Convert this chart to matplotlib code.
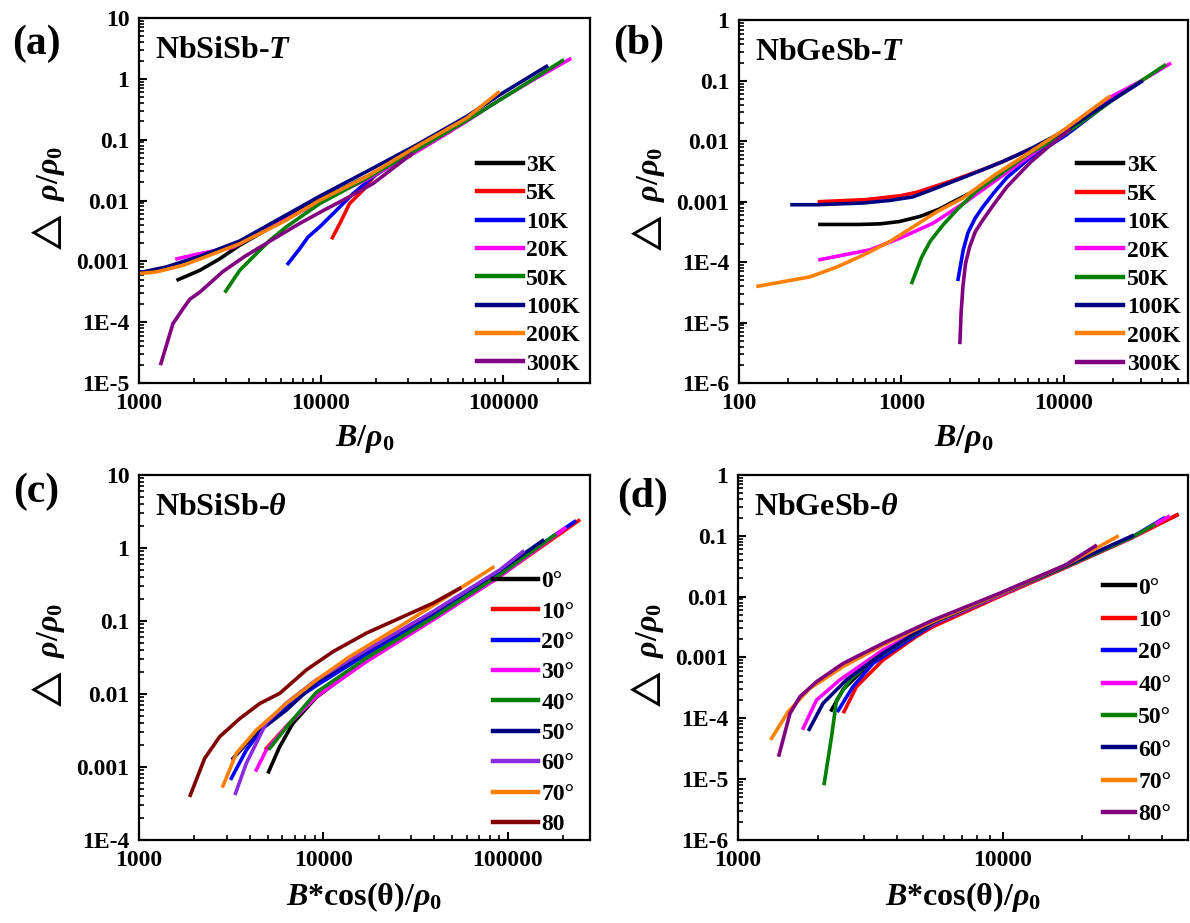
import matplotlib
matplotlib.use('Agg')
import matplotlib.pyplot as plt
from matplotlib.ticker import FixedLocator, FixedFormatter, LogLocator, NullFormatter

plt.rcParams['font.family'] = ['Liberation Serif', 'DejaVu Sans']
plt.rcParams['font.weight'] = 'bold'
plt.rcParams['mathtext.fontset'] = 'custom'
plt.rcParams['mathtext.rm'] = 'Liberation Serif:bold'
plt.rcParams['mathtext.bf'] = 'Liberation Serif:bold'
plt.rcParams['mathtext.it'] = 'Liberation Serif:italic:bold'
plt.rcParams['mathtext.fallback'] = 'stix'

# ---------------- data ----------------
# (a) NbSiSb, temperature
a_labels = ['3K', '5K', '10K', '20K', '50K', '100K', '200K', '300K']
a_colors = ['black', 'red', 'blue', 'magenta', 'green', 'navy', '#ff8000', 'purple']
a_x = [
    [1640, 2153, 2775, 3573, 6180, 9840, 17700, 30700],
    [11540, 12680, 14340, 17000, 20100, 30700, 50900],
    [6590, 7640, 8470, 9840, 11650, 15000, 19300, 27000, 41200],
    [1618, 2153, 3283, 9840, 17700, 33400, 62900, 95600, 146000, 232000],
    [2995, 3573, 4230, 5220, 6450, 9840, 17700, 33400, 62900, 118000, 212000],
    [1000, 1413, 2153, 3573, 6180, 9840, 17700, 33400, 62900, 95600, 173000],
    [1000, 1245, 1746, 2444, 3573, 6180, 9840, 17700, 33400, 62900, 94000],
    [1320, 1537, 1744, 1905, 2153, 2890, 3800, 5440, 7630, 10250, 13500, 19300, 31400],
]
a_y = [
    [5.0e-4, 7.1e-4, 1.1e-3, 1.84e-3, 4.7e-3, 0.0104, 0.0245, 0.0538],
    [2.45e-3, 4.2e-3, 8.9e-3, 0.0148, 0.0279, 0.056, 0.136],
    [9.2e-4, 1.62e-3, 2.5e-3, 3.7e-3, 6.1e-3, 0.013, 0.0245, 0.047, 0.093],
    [1.1e-3, 1.34e-3, 1.7e-3, 9.6e-3, 0.022, 0.063, 0.2, 0.45, 0.96, 2.1],
    [3.24e-4, 7.1e-4, 1.18e-3, 2.2e-3, 3.7e-3, 8.9e-3, 0.023, 0.0676, 0.206, 0.66, 2.0],
    [6.5e-4, 8.1e-4, 1.21e-3, 2.16e-3, 5.4e-3, 0.0118, 0.0297, 0.0817, 0.24, 0.545, 1.6],
    [6.3e-4, 6.7e-4, 8.6e-4, 1.26e-3, 1.95e-3, 4.45e-3, 0.0101, 0.0245, 0.0767, 0.225, 0.596],
    [2.1e-5, 9.5e-5, 1.66e-4, 2.4e-4, 3.1e-4, 6.8e-4, 1.2e-3, 2.3e-3, 4.2e-3, 6.8e-3, 0.0105, 0.019, 0.058],
]

# (b) NbGeSb, temperature
b_labels = a_labels
b_colors = a_colors
b_x = [
    [315, 550, 740, 975, 1300, 1700, 2190, 2600, 3000],
    [313, 600, 975, 1230, 1563, 1977, 2500, 3170, 4200, 5090, 6180],
    [2230, 2400, 2570, 2850, 3170, 3700, 4450, 6180, 10300, 19100],
    [315, 640, 975, 1563, 2500, 4020, 6440, 10300, 18900, 30000, 44700],
    [1160, 1330, 1500, 1800, 2190, 2900, 3870, 6180, 10300, 20000, 41600],
    [212, 300, 580, 850, 1175, 1563, 1977, 2390, 3100, 4200, 6180, 10300, 19100, 29900],
    [131, 273, 400, 580, 850, 1175, 1650, 2390, 3700, 6180, 10300, 18900],
    [2290, 2330, 2390, 2480, 2630, 2850, 3170, 3700, 4450, 6180, 8200, 10800],
]
b_y = [
    [4.2e-4, 4.2e-4, 4.3e-4, 4.7e-4, 5.7e-4, 7.5e-4, 1.07e-3, 1.35e-3, 1.65e-3],
    [1.0e-3, 1.08e-3, 1.25e-3, 1.42e-3, 1.75e-3, 2.15e-3, 2.7e-3, 3.4e-3, 4.6e-3, 5.8e-3, 7.4e-3],
    [5.2e-5, 1.6e-4, 3.1e-4, 5.4e-4, 8.2e-4, 1.4e-3, 2.5e-3, 5.3e-3, 0.0126, 0.045],
    [1.1e-4, 1.6e-4, 2.48e-4, 4.4e-4, 1.0e-3, 2.5e-3, 6.2e-3, 0.016, 0.052, 0.1, 0.19],
    [4.6e-5, 1.2e-4, 2.2e-4, 4.1e-4, 7.3e-4, 1.5e-3, 2.6e-3, 6.4e-3, 0.0135, 0.048, 0.18],
    [8.9e-4, 8.9e-4, 9.5e-4, 1.05e-3, 1.2e-3, 1.6e-3, 2.05e-3, 2.5e-3, 3.3e-3, 4.6e-3, 7.4e-3,
     0.0153, 0.045, 0.096],
    [4.0e-5, 5.7e-5, 8.3e-5, 1.3e-4, 2.2e-4, 3.8e-4, 6.8e-4, 1.15e-3, 2.7e-3, 6.6e-3, 0.0163, 0.054],
    [4.7e-6, 1.5e-5, 4.0e-5, 9.5e-5, 1.8e-4, 3.2e-4, 5.0e-4, 9.0e-4, 1.75e-3, 4.4e-3, 8.5e-3, 0.0153],
]

# (c) NbSiSb, angle
c_labels = ['0°', '10°', '20°', '30°', '40°', '50°', '60°', '70°', '80']
c_colors = ['black', 'red', 'blue', 'magenta', 'green', 'navy', '#8a2be2', '#ff8000', '#800000']
c_x = [
    [5050, 5800, 6840, 9160, 17100, 39300, 90600],
    [4900, 6300, 9160, 17100, 39300, 90600, 243000],
    [3170, 3820, 4900, 7450, 9160, 17100, 39300, 90600, 231000],
    [4330, 4900, 6300, 9160, 17100, 39300, 90600, 204000],
    [5120, 6560, 9160, 17100, 39300, 90600, 180000],
    [3235, 4330, 6300, 9160, 17100, 39300, 90600, 155000],
    [3340, 3820, 4900, 6300, 9160, 17100, 39300, 90600, 121000],
    [2855, 3375, 4330, 6300, 9170, 13900, 25900, 48400, 83200],
    [1898, 2270, 2740, 3520, 4520, 5800, 8080, 11280, 17100, 25900, 39300, 55000],
]
c_y = [
    [8.6e-4, 1.9e-3, 3.96e-3, 9.0e-3, 0.029, 0.105, 0.41],
    [1.8e-3, 3.6e-3, 9.3e-3, 0.028, 0.104, 0.41, 2.37],
    [7.0e-4, 1.7e-3, 3.96e-3, 9.2e-3, 0.013, 0.035, 0.12, 0.46, 2.3],
    [9.1e-4, 1.7e-3, 3.57e-3, 9.2e-3, 0.0277, 0.103, 0.405, 1.86],
    [1.8e-3, 3.96e-3, 0.0105, 0.031, 0.11, 0.43, 1.5],
    [1.31e-3, 2.9e-3, 6.0e-3, 0.0145, 0.039, 0.13, 0.49, 1.26],
    [4.36e-4, 1.12e-3, 4.0e-3, 7.5e-3, 0.0156, 0.040, 0.134, 0.5, 0.89],
    [5.5e-4, 1.54e-3, 3.2e-3, 7.4e-3, 0.0155, 0.0325, 0.0836, 0.227, 0.54],
    [4.1e-4, 1.31e-3, 2.6e-3, 4.6e-3, 7.4e-3, 0.0102, 0.0213, 0.038, 0.068, 0.109, 0.175, 0.28],
]

# (d) NbGeSb, angle
d_labels = ['0°', '10°', '20°', '40°', '50°', '60°', '70°', '80°']
d_colors = ['black', 'red', 'blue', 'magenta', 'green', 'navy', '#ff8000', 'purple']
d_x = [
    [2260, 2500, 3000, 3535, 5450, 9710, 17300, 30900, 45600],
    [2519, 2805, 3535, 4720, 5450, 9710, 17300, 30900, 45600],
    [2393, 2720, 3240, 5450, 9710, 17300, 30900, 40600],
    [1766, 1983, 2427, 3535, 5450, 9710, 17300, 30900, 42300],
    [2120, 2260, 2360, 2650, 3240, 5450, 9710, 17300, 30900, 37200],
    [1861, 2100, 2570, 3535, 5450, 9710, 17300, 30900],
    [1342, 1550, 1870, 2500, 3535, 5450, 9710, 17300, 27100],
    [1431, 1574, 1717, 1983, 2500, 3535, 5450, 9710, 17300, 22400],
]
d_y = [
    [1.37e-4, 3.0e-4, 6.5e-4, 1.1e-3, 3.6e-3, 0.0105, 0.031, 0.095, 0.22],
    [1.29e-4, 3.3e-4, 9.1e-4, 2.2e-3, 3.2e-3, 0.010, 0.030, 0.093, 0.22],
    [1.34e-4, 3.3e-4, 8.0e-4, 3.5e-3, 0.0105, 0.031, 0.096, 0.194],
    [6.9e-5, 2.0e-4, 4.27e-4, 1.33e-3, 3.6e-3, 0.0105, 0.031, 0.094, 0.206],
    [8.5e-6, 5.0e-5, 2.0e-4, 4.27e-4, 9.1e-4, 3.7e-3, 0.0108, 0.031, 0.095, 0.15],
    [6.6e-5, 1.77e-4, 4.27e-4, 1.17e-3, 3.8e-3, 0.011, 0.032, 0.1],
    [4.7e-5, 1.29e-4, 3.1e-4, 7.1e-4, 1.6e-3, 3.9e-3, 0.011, 0.033, 0.097],
    [2.5e-5, 1.2e-4, 2.27e-4, 4.0e-4, 8.0e-4, 1.71e-3, 4.1e-3, 0.0113, 0.0332, 0.068],
]

ytick_text = {10: '10', 1: '1', 0.1: '0.1', 0.01: '0.01', 0.001: '0.001',
              1e-4: '1E-4', 1e-5: '1E-5', 1e-6: '1E-6'}


def setup_axes(ax, xlim, ylim, xticks, yticks, xlabel, title, leg_anchor, leg_space, leg_hlen):
    ax.set_xscale('log')
    ax.set_yscale('log')
    ax.set_xlim(*xlim)
    ax.set_ylim(*ylim)
    ax.xaxis.set_major_locator(FixedLocator(xticks))
    ax.xaxis.set_major_formatter(FixedFormatter([str(t) for t in xticks]))
    ax.yaxis.set_major_locator(FixedLocator(yticks))
    ax.yaxis.set_major_formatter(FixedFormatter([ytick_text[t] for t in yticks]))
    ax.xaxis.set_minor_locator(LogLocator(base=10, subs=range(2, 10), numticks=20))
    ax.yaxis.set_minor_locator(LogLocator(base=10, subs=range(2, 10), numticks=20))
    ax.xaxis.set_minor_formatter(NullFormatter())
    ax.yaxis.set_minor_formatter(NullFormatter())
    ax.tick_params(which='major', direction='in', length=6, width=1.5,
                   top=False, right=False, labelsize=17, pad=7)
    ax.tick_params(which='minor', direction='in', length=3.5, width=1.2,
                   top=False, right=False)
    for s in ax.spines.values():
        s.set_linewidth(1.6)
    ax.set_xlabel(xlabel, fontsize=23, fontweight='bold')
    ax.set_ylabel(r'$\triangle\ \rho/\rho_0$', fontsize=23, fontweight='bold')
    ax.xaxis.set_label_coords(0.5, -0.11)
    ax.yaxis.set_label_coords(-0.16, 0.5)
    ax.text(0.035, 0.89, title, transform=ax.transAxes, fontsize=23,
            fontweight='bold', va='baseline')
    leg = ax.legend(loc='upper left', bbox_to_anchor=leg_anchor, frameon=False,
                    borderpad=0, borderaxespad=0, handlelength=leg_hlen,
                    handletextpad=0.15, labelspacing=leg_space,
                    prop={'size': 17, 'weight': 'bold'})
    for h in leg.get_lines():
        h.set_linewidth(3.2)


def draw(ax, xs, ys, labels, colors):
    for x, y, lab, col in zip(xs, ys, labels, colors):
        ax.plot(x, y, color=col, lw=2.6, label=lab)


fig = plt.figure(figsize=(11.9, 9.23), dpi=100)
ax_a = fig.add_axes([0.1168, 0.585, 0.379, 0.3955])
ax_b = fig.add_axes([0.621, 0.585, 0.3773, 0.393])
ax_c = fig.add_axes([0.1168, 0.0899, 0.379, 0.3955])
ax_d = fig.add_axes([0.620, 0.0899, 0.378, 0.3955])

draw(ax_a, a_x, a_y, a_labels, a_colors)
setup_axes(ax_a, (1000, 3e5), (1e-5, 10), [1000, 10000, 100000],
           [1e-5, 1e-4, 0.001, 0.01, 0.1, 1, 10], r'$B/\rho_0$',
           r'NbSiSb-$T$', (0.749, 0.626), 0.29, 1.95)

draw(ax_b, b_x, b_y, b_labels, b_colors)
setup_axes(ax_b, (100, 5.8e4), (1e-6, 1), [100, 1000, 10000],
           [1e-6, 1e-5, 1e-4, 0.001, 0.01, 0.1, 1], r'$B/\rho_0$',
           r'NbGeSb-$T$', (0.753, 0.629), 0.29, 1.95)

draw(ax_c, c_x, c_y, c_labels, c_colors)
setup_axes(ax_c, (1000, 2.8e5), (1e-4, 10), [1000, 10000, 100000],
           [1e-4, 0.001, 0.01, 0.1, 1, 10], r'$B$*cos(θ)/$\rho_0$',
           r'NbSiSb-$\theta$', (0.785, 0.738), 0.375, 1.9)

draw(ax_d, d_x, d_y, d_labels, d_colors)
setup_axes(ax_d, (1000, 5e4), (1e-6, 1), [1000, 10000],
           [1e-6, 1e-5, 1e-4, 0.001, 0.01, 0.1, 1], r'$B$*cos(θ)/$\rho_0$',
           r'NbGeSb-$\theta$', (0.811, 0.72), 0.46, 1.36)

for lab, px, py in [('(a)', 0.031, 0.953), ('(b)', 0.537, 0.953),
                    ('(c)', 0.030, 0.467), ('(d)', 0.540, 0.462)]:
    fig.text(px, py, lab, fontsize=30, fontweight='bold', ha='center', va='center')

fig.savefig('out.png', dpi=100)
